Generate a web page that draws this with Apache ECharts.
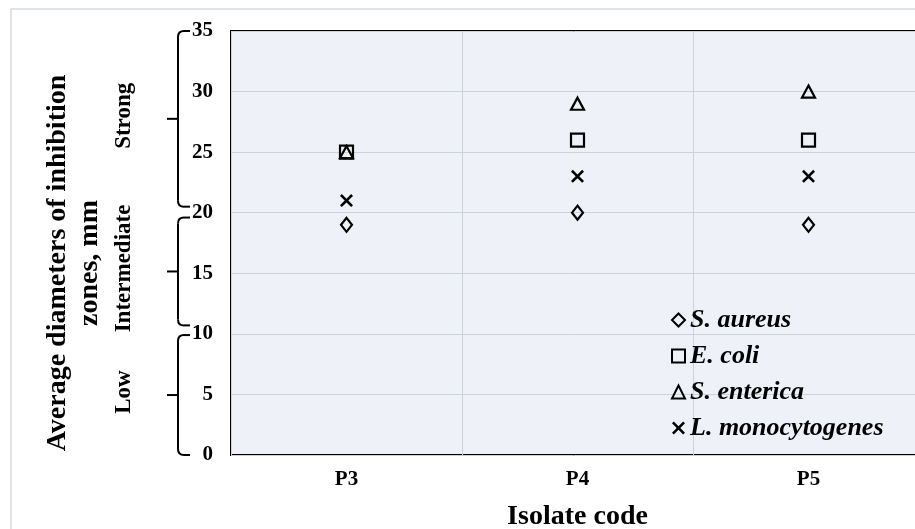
<!DOCTYPE html>
<html>
<head>
<meta charset="utf-8">
<script src="https://cdn.jsdelivr.net/npm/echarts@6/dist/echarts.min.js"></script>
<style>html,body{margin:0;padding:0;background:#fff;}#c{width:915px;height:529px;}</style>
</head>
<body>
<div id="c"></div>
<script>
const categories = ['P3', 'P4', 'P5'];
const sAureus = [19, 20, 19];
const eColi = [25, 26, 26];
const sEnterica = [25, 29, 30];
const lMonocytogenes = [21, 23, 23];
const yMin = 0, yMax = 35, yInterval = 5;
const bandNames = ['Strong', 'Intermediate', 'Low'];
const bandTop = [35, 19.6, 9.9];
const bandBottom = [20.5, 10.7, 0];

const serif = '"Liberation Serif", "Times New Roman", serif';
const crossPath = 'path://M0,1.4L1.4,0L5,3.6L8.6,0L10,1.4L6.4,5L10,8.6L8.6,10L5,6.4L1.4,10L0,8.6L3.6,5Z';
const outline = { color: 'rgba(0,0,0,0)', borderColor: '#000', borderWidth: 2.2, opacity: 1 };

const chart = echarts.init(document.getElementById('c'));
chart.setOption({
  backgroundColor: '#fff',
  animation: false,
  grid: {
    left: 231, top: 31, width: 693, height: 424, outerBoundsMode: 'none',
    show: true, backgroundColor: '#eef2f8', borderColor: '#000', borderWidth: 2
  },
  xAxis: {
    type: 'category', data: categories, boundaryGap: true,
    axisLine: { show: false }, axisTick: { show: false },
    splitLine: { show: true, lineStyle: { color: '#cdd2d8', width: 1 } },
    axisLabel: { margin: 14, color: '#000', fontFamily: serif, fontWeight: 'bold', fontSize: 21 },
    name: 'Isolate code', nameLocation: 'middle', nameGap: 48,
    nameTextStyle: { color: '#000', fontFamily: serif, fontWeight: 'bold', fontSize: 28 }
  },
  yAxis: {
    type: 'value', min: yMin, max: yMax, interval: yInterval,
    axisLine: { show: false }, axisTick: { show: false },
    splitLine: { show: true, lineStyle: { color: '#cdd2d8', width: 1 } },
    axisLabel: { margin: 18, color: '#000', fontFamily: serif, fontWeight: 'bold', fontSize: 21 }
  },
  legend: {
    orient: 'vertical', left: 666, top: 302, itemGap: 10, itemWidth: 13, itemHeight: 13,
    textStyle: { color: '#000', fontFamily: serif, fontWeight: 'bold', fontStyle: 'italic', fontSize: 26, lineHeight: 24 },
    data: ['S. aureus', 'E. coli', 'S. enterica', 'L. monocytogenes']
  },
  series: [
    { name: 'S. aureus', type: 'scatter', data: sAureus, symbol: 'diamond', symbolSize: [11, 14], itemStyle: outline },
    { name: 'E. coli', type: 'scatter', data: eColi, symbol: 'rect', symbolSize: 13, itemStyle: outline },
    { name: 'S. enterica', type: 'scatter', data: sEnterica, symbol: 'triangle', symbolSize: [13, 12], itemStyle: outline },
    { name: 'L. monocytogenes', type: 'scatter', data: lMonocytogenes, symbol: crossPath, symbolSize: 13, itemStyle: { color: '#000', opacity: 1 } }
  ]
});

// braces, band labels and axis title placed through the y scale
const py = v => chart.convertToPixel({ yAxisIndex: 0 }, v);
const elems = [];
const bx = 178, hookR = 190, tickL = 167, r = 6;
const stroke = { stroke: '#000', lineWidth: 2, fill: null };
bandNames.forEach((name, i) => {
  const y0 = py(bandTop[i]), y1 = py(bandBottom[i]);
  const ym = (y0 + y1) / 2;
  elems.push({ type: 'line', shape: { x1: bx + r, y1: y0, x2: hookR, y2: y0 }, style: stroke });
  elems.push({ type: 'bezierCurve', shape: { x1: bx + r, y1: y0, cpx1: bx, cpy1: y0, x2: bx, y2: y0 + r }, style: stroke });
  elems.push({ type: 'line', shape: { x1: bx, y1: y0 + r, x2: bx, y2: y1 - r }, style: stroke });
  elems.push({ type: 'bezierCurve', shape: { x1: bx, y1: y1 - r, cpx1: bx, cpy1: y1, x2: bx + r, y2: y1 }, style: stroke });
  elems.push({ type: 'line', shape: { x1: bx + r, y1: y1, x2: hookR, y2: y1 }, style: stroke });
  elems.push({ type: 'line', shape: { x1: tickL, y1: ym, x2: bx, y2: ym }, style: stroke });
  elems.push({
    type: 'text', x: 124, y: ym - 3, rotation: Math.PI / 2,
    style: { text: name, fill: '#000', font: `bold 23px ${serif}`, align: 'center', verticalAlign: 'middle' }
  });
});
const yc = (py(yMin) + py(yMax)) / 2 + 20;
elems.push({
  type: 'text', x: 58, y: yc, rotation: Math.PI / 2,
  style: { text: 'Average diameters of inhibition', fill: '#000', font: `bold 28px ${serif}`, align: 'center', verticalAlign: 'middle' }
});
elems.push({
  type: 'text', x: 90, y: yc, rotation: Math.PI / 2,
  style: { text: 'zones, mm', fill: '#000', font: `bold 28px ${serif}`, align: 'center', verticalAlign: 'middle' }
});
elems.push({
  type: 'rect', shape: { x: 11, y: 9, width: 920, height: 540 },
  style: { stroke: '#d6dade', lineWidth: 1.5, fill: null }, z: -1
});
chart.setOption({ graphic: { elements: elems } });
</script>
</body>
</html>
